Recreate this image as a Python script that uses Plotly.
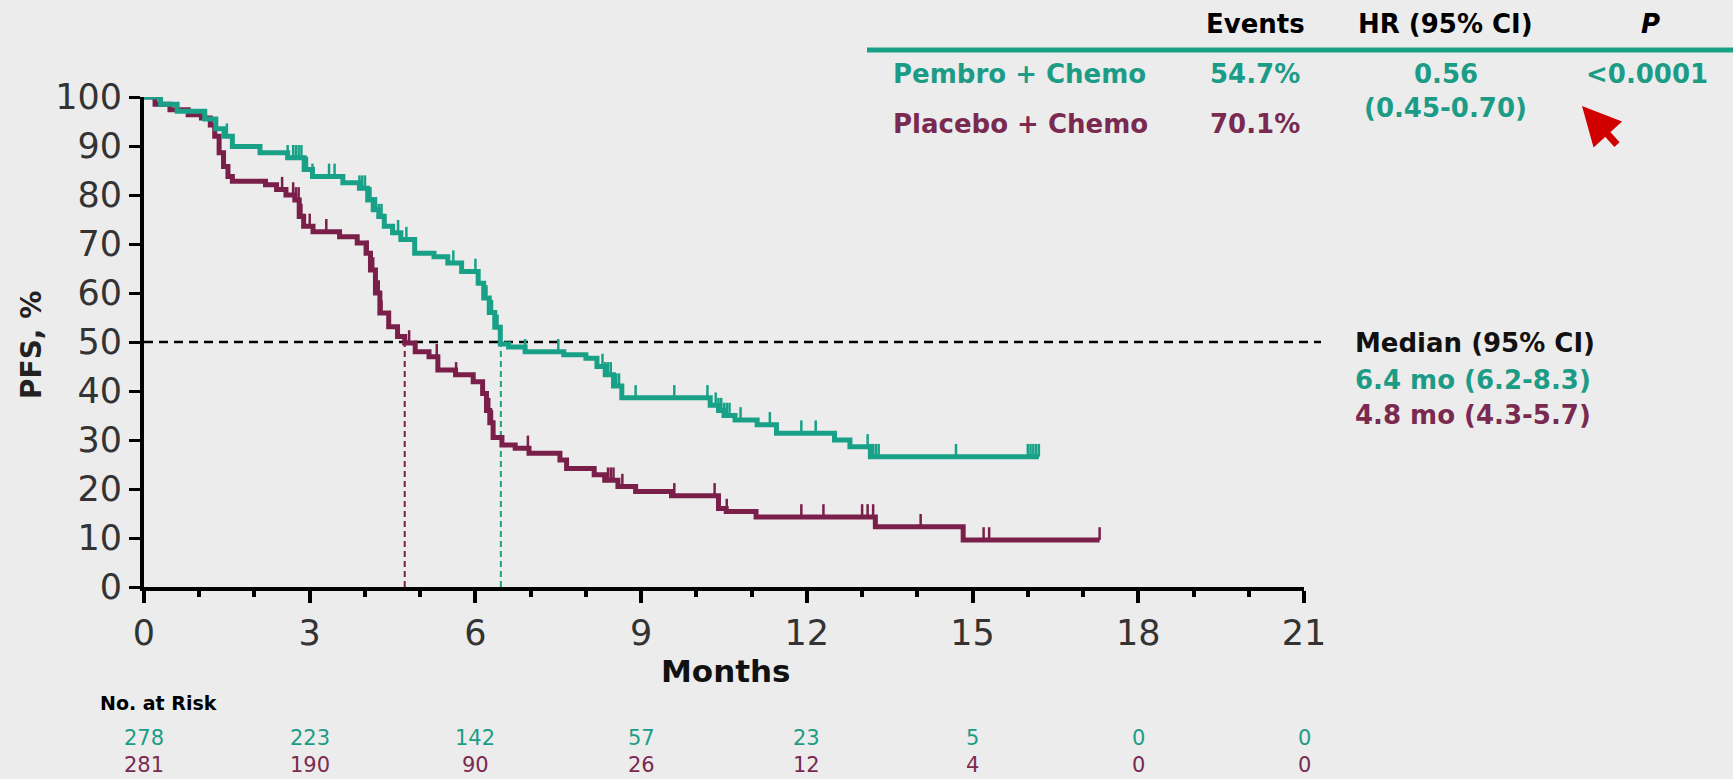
import plotly.graph_objects as go
import numpy as np

# ---------------- data ----------------
months_ticks = [0, 3, 6, 9, 12, 15, 18, 21]
pfs_ticks = [0, 10, 20, 30, 40, 50, 60, 70, 80, 90, 100]

pembro_time = [0, 0.3, 0.6, 1.1, 1.3, 1.45, 1.6, 2.1, 2.6, 2.9, 3.05, 3.6, 3.9, 4.05, 4.15, 4.25,
               4.35, 4.5, 4.65, 4.9, 5.25, 5.5, 5.75, 6.05, 6.15, 6.25, 6.35, 6.45, 6.6, 6.9, 7.6,
               8.0, 8.2, 8.35, 8.5, 8.65, 10.25, 10.4, 10.5, 10.7, 11.1, 11.45, 12.5, 12.78, 13.15, 16.2]
pembro_surv = [100, 98.5, 97.1, 95.5, 93.5, 92, 89.9, 88.6, 87.6, 85.2, 83.8, 82.5, 81.4, 79, 77, 75.6,
               73.6, 72.3, 70.9, 68.1, 67.4, 66.1, 64.4, 62, 59, 56, 53, 49.6, 49, 48, 47.4,
               46.7, 45, 43.3, 41, 38.6, 37.1, 36, 35, 34.1, 33.1, 31.4, 30.0, 28.6, 26.6, 26.6]
pembro_censor = [0.05, 1.5, 2.6, 2.7, 2.75, 2.8, 2.85, 2.9, 2.95, 3.05, 3.35, 3.45,
                 3.9, 3.95, 4.0, 4.05, 4.1, 4.15, 4.2, 4.25, 4.3, 4.35, 4.6, 4.75,
                 5.6, 6.0, 6.2, 6.25, 6.3, 6.35, 6.4, 6.9, 7.5,
                 8.3, 8.35, 8.4, 8.45, 8.5, 8.55, 8.6, 8.9, 9.6,
                 10.2, 10.35, 10.4, 10.45, 10.5, 10.55, 10.6, 10.8, 11.33, 11.9, 12.16,
                 13.1, 13.15, 13.2, 13.25, 13.3, 14.7, 16.0, 16.05, 16.1, 16.15, 16.2]

placebo_time = [0, 0.2, 0.47, 0.8, 1.04, 1.2, 1.28, 1.36, 1.44, 1.52, 1.6, 2.2, 2.4, 2.57, 2.73, 2.81,
                2.89, 3.06, 3.54, 3.86, 4.02, 4.1, 4.19, 4.27, 4.43, 4.59, 4.72, 4.91, 5.16, 5.32,
                5.64, 5.96, 6.13, 6.2, 6.26, 6.32, 6.48, 6.72, 6.97, 7.53, 7.65, 8.15, 8.34, 8.58,
                8.9, 9.55, 10.4, 10.54, 11.08, 13.24, 14.83, 17.3]
placebo_surv = [100, 98.5, 97.4, 96.4, 95.7, 94.3, 92, 88.6, 85.8, 83.8, 82.8, 82.1, 81.1, 80, 79, 75.6,
                73.6, 72.5, 71.5, 70.2, 68.1, 64.7, 60, 55.9, 53.1, 51.1, 49.8, 48, 47, 44.3,
                43.3, 41.9, 39.5, 36, 33.5, 30.5, 29, 28.3, 27.3, 25.9, 24.2, 22.9, 21.8, 20.5,
                19.5, 18.6, 16.0, 15.4, 14.3, 12.3, 9.6, 9.6]
placebo_censor = [1.3, 2.5, 2.7, 2.75, 2.8, 2.85, 2.9, 3.0, 3.3,
                  4.05, 4.1, 4.15, 4.2, 4.25, 4.3, 4.8, 5.3, 5.65,
                  6.15, 6.2, 6.25, 6.3, 6.95, 8.4, 8.45, 8.5, 8.66, 9.6, 10.33, 10.55,
                  11.9, 12.3, 13.0, 13.1, 13.2, 14.06, 15.2, 15.3, 17.3]

median_pembro = 6.46
median_placebo = 4.72

risk_pembro = [278, 223, 142, 57, 23, 5, 0, 0]
risk_placebo = [281, 190, 90, 26, 12, 4, 0, 0]

table_header = ["Events", "HR (95% CI)", "<i>P</i>"]
arms = ["Pembro + Chemo", "Placebo + Chemo"]
events = ["54.7%", "70.1%"]
hr_text = ["0.56", "(0.45-0.70)"]
p_text = "&lt;0.0001"
median_lines = ["Median (95% CI)", "6.4 mo (6.2-8.3)", "4.8 mo (4.3-5.7)"]

# ---------------- style ----------------
TEAL = "#19a188"
MAROON = "#7a1f4a"
TEAL_TXT = "#1c9c86"
MAROON_TXT = "#7a2a50"
BG = "#ececec"
FONT = "DejaVu Sans, Liberation Sans, Arial, sans-serif"

W, H = 1733, 779
L, R, T, B = 144, 429, 97, 192
PW, PH = W - L - R, H - T - B


def px(xp):
    return (xp - L) / PW


def py(yp):
    return (H - B - yp) / PH


def step_value(times, surv, t):
    idx = np.searchsorted(np.array(times), t, side="right") - 1
    return surv[max(idx, 0)]


def censor_segments(times, surv, cens, h=2.6):
    xs, ys = [], []
    for c in cens:
        s = step_value(times, surv, c)
        xs += [c, c, None]
        ys += [s, s + h, None]
    return xs, ys


fig = go.Figure()

for times, surv, cens, col in [(placebo_time, placebo_surv, placebo_censor, MAROON),
                               (pembro_time, pembro_surv, pembro_censor, TEAL)]:
    fig.add_trace(go.Scatter(x=times, y=surv, mode="lines", line=dict(color=col, width=5, shape="hv"),
                             showlegend=False, hoverinfo="skip"))
    cx, cy = censor_segments(times, surv, cens)
    fig.add_trace(go.Scatter(x=cx, y=cy, mode="lines", line=dict(color=col, width=2.5),
                             showlegend=False, hoverinfo="skip", cliponaxis=False))

shapes = []
# horizontal median line
shapes.append(dict(type="line", xref="paper", yref="y", x0=0, x1=px(1321), y0=50, y1=50,
                   line=dict(color="black", width=2.5, dash="9px,6px"), layer="below"))
shapes.append(dict(type="line", xref="x", yref="y", x0=median_placebo, x1=median_placebo, y0=0, y1=50,
                   line=dict(color=MAROON, width=2, dash="6px,4px"), layer="below"))
shapes.append(dict(type="line", xref="x", yref="y", x0=median_pembro, x1=median_pembro, y0=0, y1=50,
                   line=dict(color=TEAL, width=2, dash="6px,4px"), layer="below"))
# table rule
shapes.append(dict(type="line", xref="paper", yref="paper", x0=px(867), x1=px(1733), y0=py(50), y1=py(50),
                   line=dict(color=TEAL, width=5)))

ann = []


def text(x, y, s, size, color="black", bold=False, xanchor="center", xref="paper", **kw):
    ann.append(dict(x=x if xref == "x" else px(x), y=py(y), xref=xref, yref="paper", text=f"<b>{s}</b>" if bold else s,
                    showarrow=False, xanchor=xanchor, yanchor="middle",
                    font=dict(family=FONT, size=size, color=color), **kw))


# table
for s, xc in zip(table_header, [1255, 1445, 1650]):
    text(xc, 24, s, 26, "black", bold=True)
text(1019, 74, arms[0], 26, TEAL_TXT, bold=True)
text(1020, 124, arms[1], 26, MAROON_TXT, bold=True)
text(1255, 74, events[0], 26, TEAL_TXT, bold=True)
text(1255, 124, events[1], 26, MAROON_TXT, bold=True)
text(1446, 74, hr_text[0], 26, TEAL_TXT, bold=True)
text(1445, 108, hr_text[1], 26, TEAL_TXT, bold=True)
text(1647, 74, p_text, 26, TEAL_TXT, bold=True)

# median text
text(1353, 343, median_lines[0], 26, "#111111", bold=True, xanchor="left")
text(1353, 380, median_lines[1], 26, TEAL_TXT, bold=True, xanchor="left")
text(1353, 415, median_lines[2], 26, MAROON_TXT, bold=True, xanchor="left")

# axis titles
text(726, 671, "Months", 31, "#111111", bold=True)
text(31, 345, "PFS, %", 28, "#222222", bold=True, textangle=-90)

# at-risk table
text(98, 703, "No. at Risk", 19, "black", bold=True, xanchor="left")
for m, n in zip(months_ticks, risk_pembro):
    text(m, 738, str(n), 21, TEAL_TXT, xref="x")
for m, n in zip(months_ticks, risk_placebo):
    text(m, 765, str(n), 21, MAROON_TXT, xref="x")

# red cursor arrow
ann.append(dict(x=px(1582), y=py(106), xref="paper", yref="paper", text=" ", showarrow=True,
                ax=38, ay=42, arrowcolor="#d10000", arrowwidth=7, arrowhead=2, arrowsize=1.1,
                standoff=0))

fig.update_layout(
    width=W, height=H,
    margin=dict(l=L, r=R, t=T, b=B, pad=0),
    paper_bgcolor=BG, plot_bgcolor=BG,
    shapes=shapes, annotations=ann,
    xaxis=dict(range=[0, 21], tickvals=months_ticks, showgrid=False, zeroline=False,
               showline=True, linecolor="black", linewidth=4, ticks="outside", ticklen=12,
               tickwidth=4, tickcolor="black", automargin=False,
               tickfont=dict(family=FONT, size=35, color="#333333"),
               minor=dict(dtick=1, ticks="outside", ticklen=6, tickwidth=4, tickcolor="black", showgrid=False)),
    yaxis=dict(range=[0, 100], tickvals=pfs_ticks, showgrid=False, zeroline=False,
               showline=True, linecolor="black", linewidth=4, ticks="outside", ticklen=11,
               tickwidth=3, tickcolor="black", automargin=False,
               tickfont=dict(family=FONT, size=35, color="#333333")),
)

fig.write_html("out.html")
